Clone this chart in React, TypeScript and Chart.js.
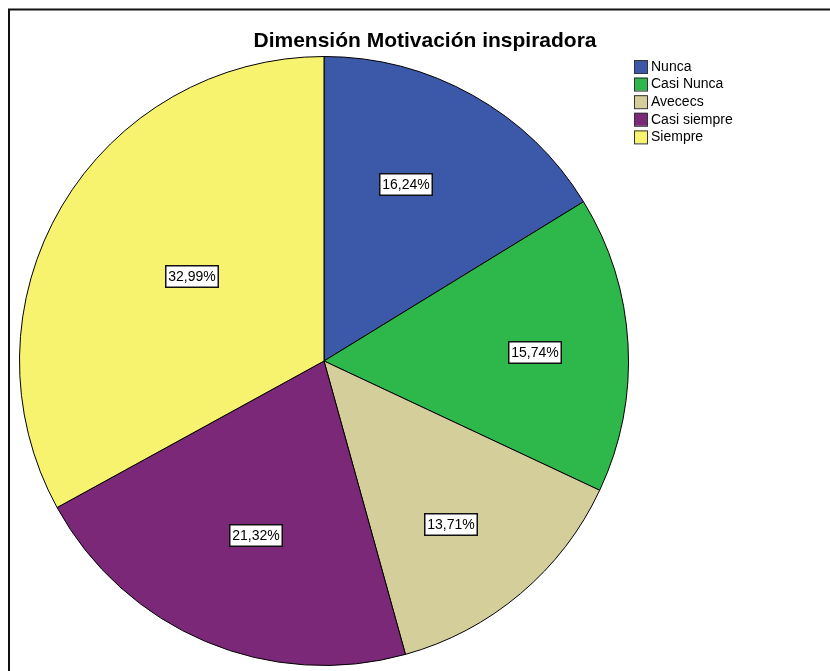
import React, { useEffect, useRef } from "react";
import { Chart, registerables } from "chart.js";

Chart.register(...registerables);

const title = "Dimensión Motivación inspiradora";
const categories = ["Nunca", "Casi Nunca", "Avececs", "Casi siempre", "Siempre"];
const values = [16.24, 15.74, 13.71, 21.32, 32.99];
const valueLabels = ["16,24%", "15,74%", "13,71%", "21,32%", "32,99%"];
const colors = ["#3C58A9", "#2EB84B", "#D4CE9B", "#7C2878", "#F8F36F"];
// label placement (layout): distance from center as fraction of radius, and angle nudge in degrees
const labelRadius = [0.638, 0.692, 0.681, 0.616, 0.514];
const labelAngleNudge = [-4.3, 0.9, 2.3, -1.5, 2.0];

const FONT = "'Liberation Sans', Arial, sans-serif";

const overlay = {
  id: "overlay",
  afterDraw(chart: any) {
    const ctx = chart.ctx as CanvasRenderingContext2D;
    ctx.save();
    // frame
    ctx.strokeStyle = "#111";
    ctx.lineWidth = 2;
    ctx.beginPath();
    ctx.moveTo(9, 671);
    ctx.lineTo(9, 9.5);
    ctx.lineTo(830, 9.5);
    ctx.stroke();

    // title
    ctx.fillStyle = "#000";
    ctx.font = `bold 21px ${FONT}`;
    ctx.textAlign = "center";
    ctx.textBaseline = "alphabetic";
    ctx.fillText(title, 425, 46.5);

    // legend
    ctx.font = `14px ${FONT}`;
    ctx.textAlign = "left";
    ctx.textBaseline = "middle";
    categories.forEach((c, i) => {
      const y = 66.5 + i * 17.6;
      ctx.fillStyle = colors[i];
      ctx.fillRect(634, y - 6.5, 13, 13);
      ctx.strokeStyle = "#333";
      ctx.lineWidth = 1;
      ctx.strokeRect(634.5, y - 6, 13, 13);
      ctx.fillStyle = "#000";
      ctx.fillText(c, 651, y + 0.5);
    });

    // value labels
    const meta = chart.getDatasetMeta(0);
    ctx.font = `14px ${FONT}`;
    ctx.textAlign = "center";
    meta.data.forEach((arc: any, i: number) => {
      const p = arc.getProps(["x", "y", "startAngle", "endAngle", "outerRadius"], true);
      const mid = (p.startAngle + p.endAngle) / 2 + (labelAngleNudge[i] * Math.PI) / 180;
      const r = p.outerRadius * labelRadius[i];
      const x = p.x + Math.cos(mid) * r;
      const y = p.y + Math.sin(mid) * r;
      const w = Math.round(ctx.measureText(valueLabels[i]).width + 7);
      const h = 23;
      const bx = Math.round(x - w / 2);
      const by = Math.round(y - h / 2);
      ctx.fillStyle = "#fff";
      ctx.fillRect(bx, by, w, h);
      ctx.strokeStyle = "#111";
      ctx.lineWidth = 1.5;
      ctx.strokeRect(bx + 0.75, by + 0.75, w - 1.5, h - 1.5);
      ctx.fillStyle = "#000";
      ctx.fillText(valueLabels[i], bx + w / 2, by + h / 2 + 1);
    });
    ctx.restore();
  },
};

export default function App() {
  const ref = useRef<HTMLCanvasElement>(null);
  useEffect(() => {
    if (!ref.current) return;
    const chart = new Chart(ref.current, {
      type: "pie",
      data: {
        labels: categories,
        datasets: [
          {
            data: values,
            backgroundColor: colors,
            borderColor: "#000",
            borderWidth: 1,
          },
        ],
      },
      options: {
        responsive: false,
        animation: false,
        layout: { padding: { left: 19, right: 201, top: 56, bottom: 5 } },
        plugins: {
          legend: { display: false },
          title: { display: false },
          tooltip: { enabled: false },
        },
      },
      plugins: [overlay],
    });
    return () => chart.destroy();
  }, []);
  return (
    <div style={{ position: "absolute", left: 0, top: 0, width: 830, height: 671, background: "#fff" }}>
      <canvas ref={ref} width={830} height={671} style={{ display: "block" }} />
    </div>
  );
}
